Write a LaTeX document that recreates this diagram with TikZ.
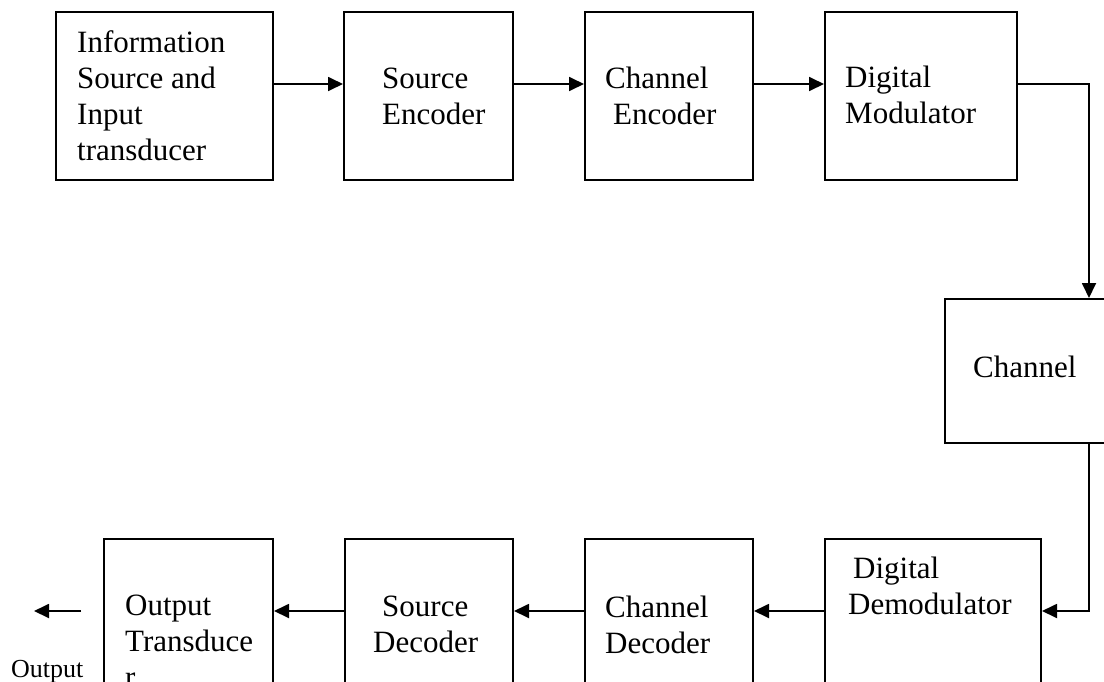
\documentclass[tikz,border=0pt]{standalone}
\usepackage{fontspec}
\setmainfont{Liberation Serif}
\usetikzlibrary{arrows.meta}
\begin{document}
\begin{tikzpicture}[x=1pt,y=-1pt,
  block/.style={draw,line width=2pt,inner sep=0pt},
  txt/.style={anchor=base west,inner sep=0pt,align=left,
    font=\fontsize{31}{36}\selectfont},
  flow/.style={line width=1.8pt,-{Triangle[length=15pt,width=14pt]}}]
\useasboundingbox (0,0) rectangle (1104,681);
\clip (0,0) rectangle (1104,681);

% transmitter chain
\node[block,minimum width=217pt,minimum height=168pt] (src)  at (164.5,96) {};
\node[block,minimum width=169pt,minimum height=168pt] (senc) at (428.5,96) {};
\node[block,minimum width=168pt,minimum height=168pt] (cenc) at (669,96) {};
\node[block,minimum width=192pt,minimum height=168pt] (dmod) at (921,96) {};

% channel
\node[block,minimum width=288pt,minimum height=144pt] (chan) at (1089,371) {};

% receiver chain
\node[block,minimum width=216pt,minimum height=144pt] (demod) at (933,611) {};
\node[block,minimum width=168pt,minimum height=144pt] (cdec)  at (669,611) {};
\node[block,minimum width=168pt,minimum height=144pt] (sdec)  at (429,611) {};
\node[block,minimum width=169pt,minimum height=144pt] (out)   at (188.5,611) {};

% block texts (placed by the baseline of their last line)
\node[txt] (srcT)   at (77,160)  {Information\\Source and\\Input\\transducer};
\node[txt] (sencT)  at (382,124) {Source\\Encoder};
\node[txt] (cencT)  at (605,124) {Channel\\\hspace*{8pt}Encoder};
\node[txt] (dmodT)  at (845,123) {Digital\\Modulator};
\node[txt] (chanT)  at (973,377) {Channel};
\node[txt] (demodT) at (848,614) {\hspace*{5pt}Digital\\Demodulator};
\node[txt] (cdecT)  at (605,653) {Channel\\Decoder};
\node[txt] (sdecT)  at (373,652) {\hspace*{9pt}Source\\Decoder};
\node[txt] (outT)   at (125,687) {Output\\Transduce\\r};
\node[anchor=base west,inner sep=0pt,font=\fontsize{26}{30}\selectfont] (outL) at (11,677) {Output};

% signal flow
\draw[flow] ([yshift=12pt]src.east)  -- ([yshift=12pt]senc.west);
\draw[flow] ([yshift=12pt]senc.east) -- ([yshift=12pt]cenc.west);
\draw[flow] ([yshift=12pt]cenc.east) -- ([yshift=12pt]dmod.west);
\draw[flow] ([yshift=12pt]dmod.east) -| (chan.north);
\draw[flow] (chan.south) |- (demod.east);
\draw[flow] (demod.west) -- (cdec.east);
\draw[flow] (cdec.west)  -- (sdec.east);
\draw[flow] (sdec.west)  -- (out.east);
\coordinate (outA) at (81,611);
\coordinate (outB) at (34,611);
\draw[flow] (outA) -- (outB);
\end{tikzpicture}
\end{document}
